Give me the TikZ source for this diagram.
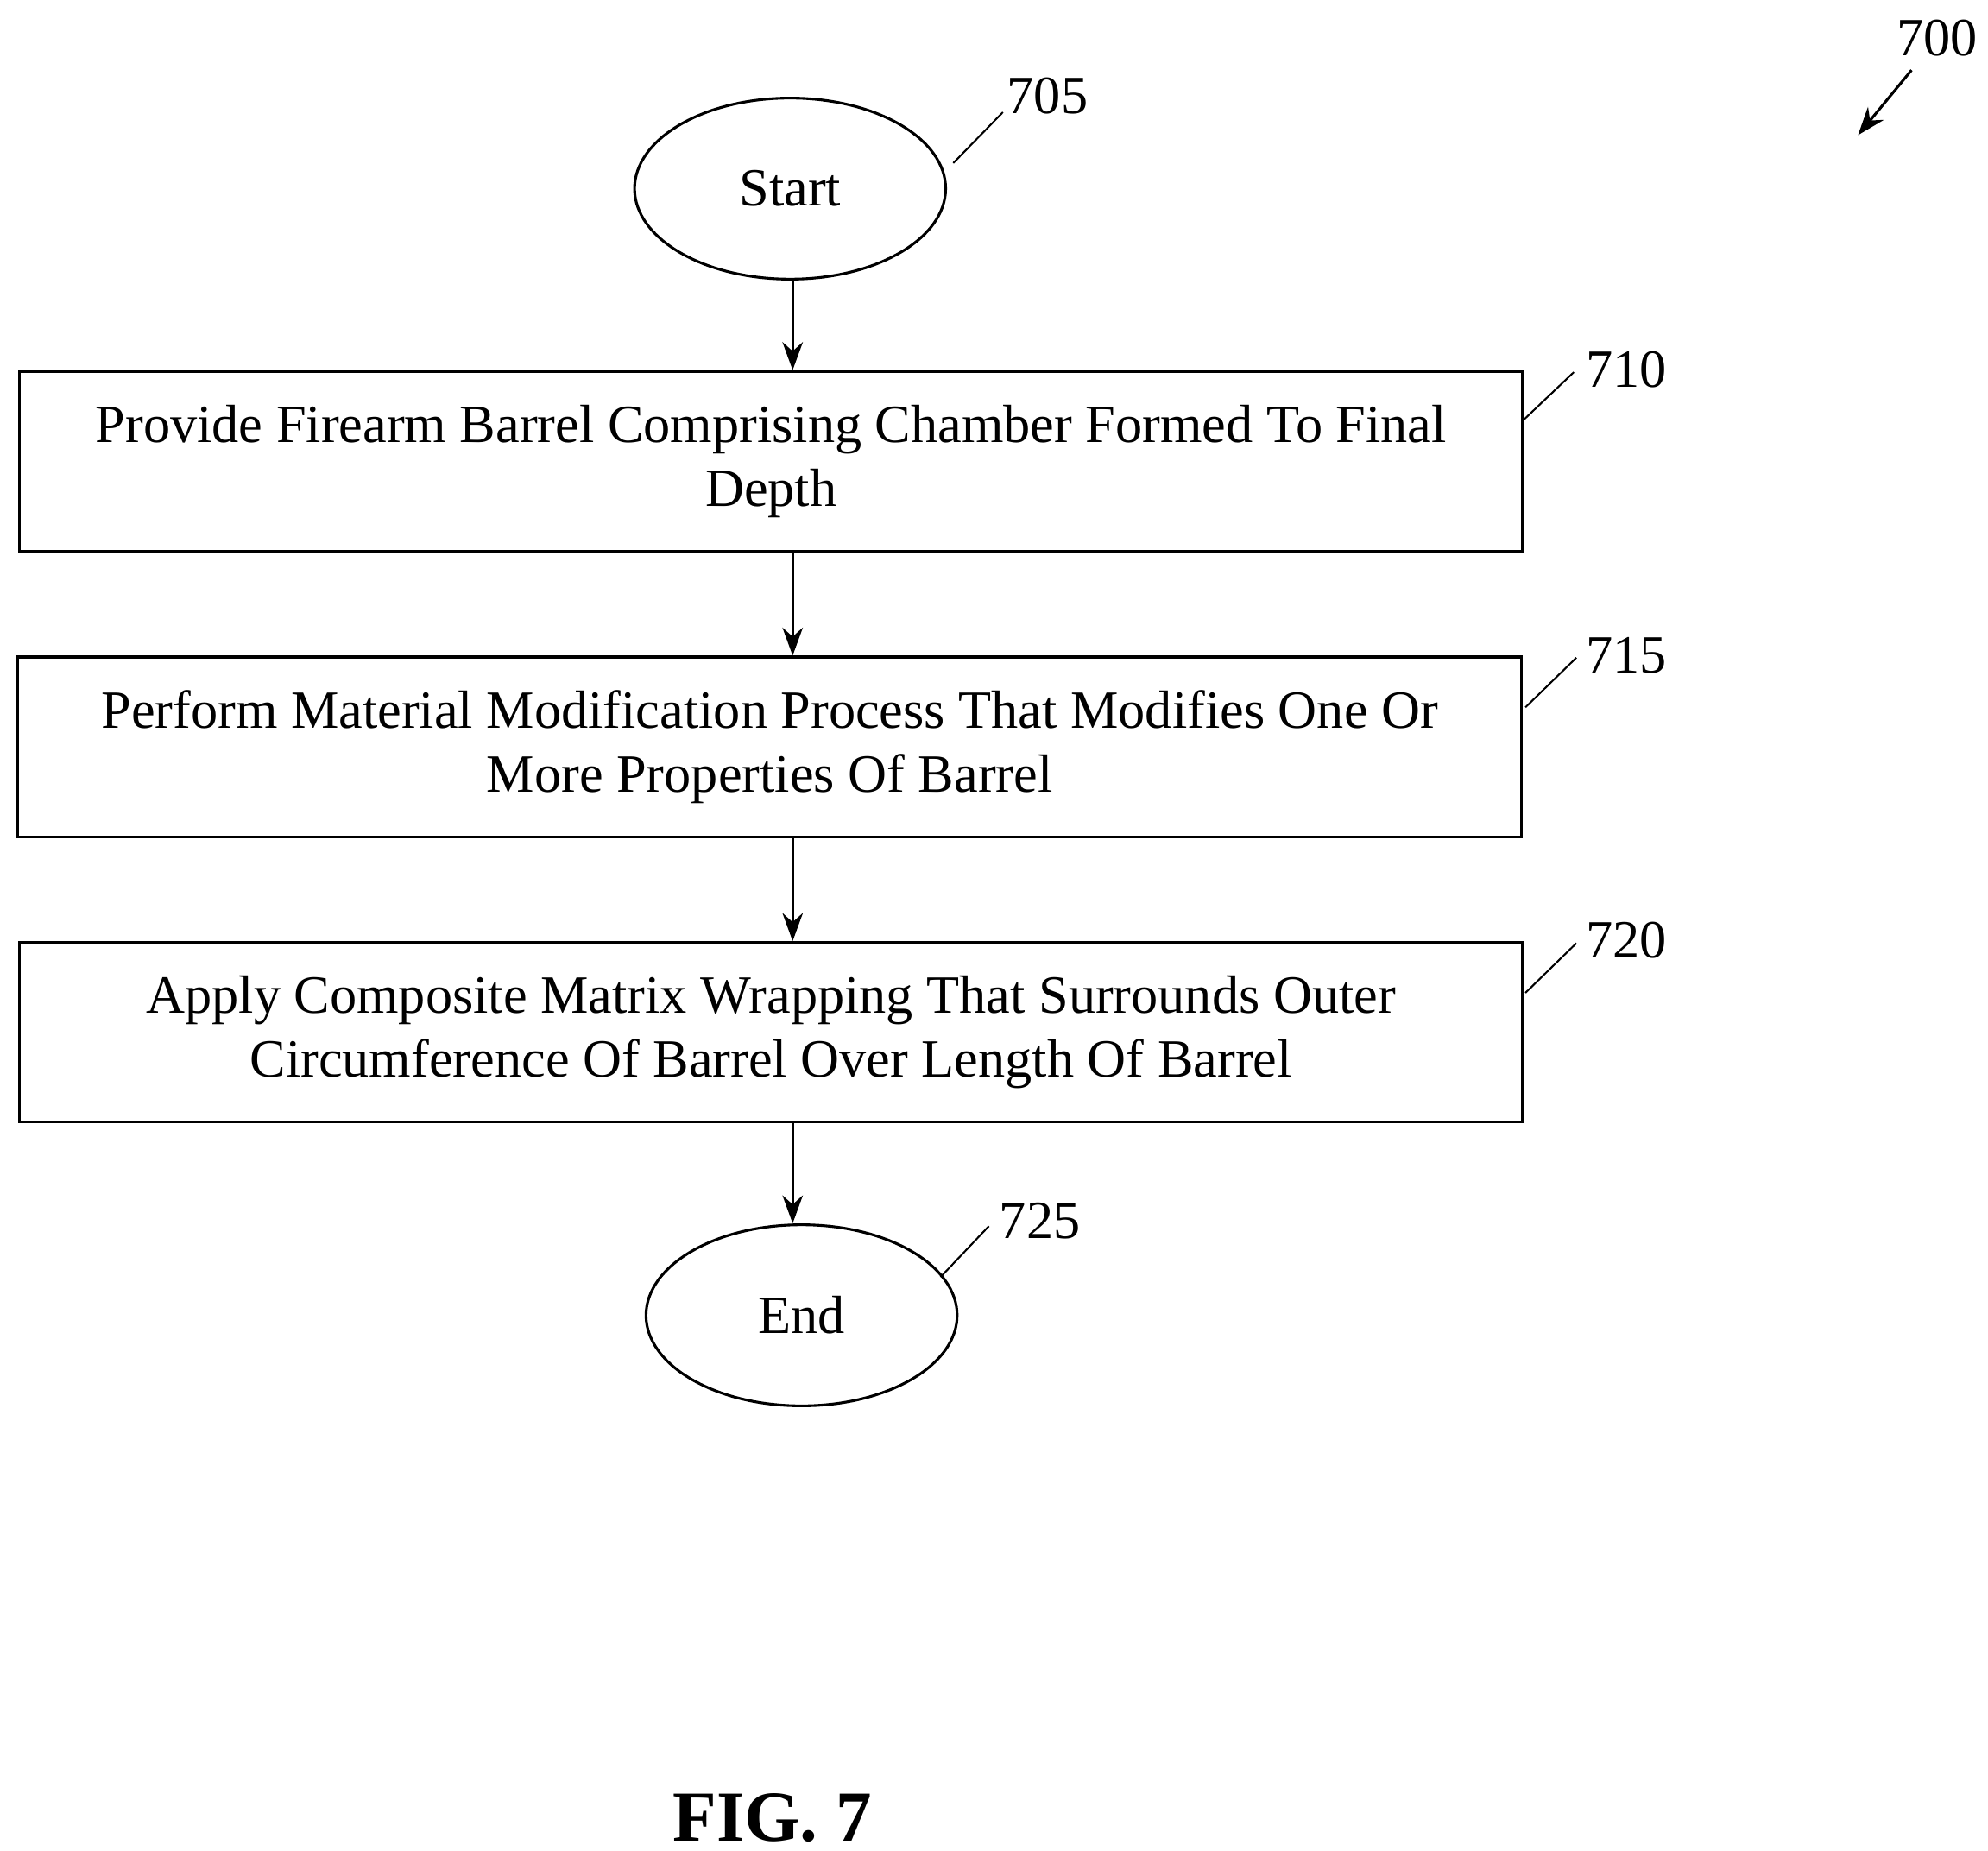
\documentclass[tikz,border=0pt]{standalone}
\usepackage{fontspec}
\setmainfont{Liberation Serif}
\usetikzlibrary{positioning,shapes.geometric,arrows.meta}
\tikzset{
	stepbox/.style={rectangle, draw, semithick, minimum width=11.79cm, minimum height=1.41cm, align=center, font=\fontsize{12}{14.2}\selectfont, inner sep=0pt},
	termnode/.style={ellipse, draw, semithick, minimum width=2.44cm, minimum height=1.42cm, font=\fontsize{12}{14.2}\selectfont},
	reflabel/.style={font=\fontsize{12}{14.2}\selectfont, inner sep=1pt},
	flow/.style={-{Stealth[length=2.2mm,width=1.6mm]}, semithick}
}
\begin{document}
\begin{tikzpicture}[x=0.01cm,y=-0.01cm]
	\useasboundingbox (0,0) rectangle (1560,1452);
	% flow nodes
	\node[termnode] (start) at (620,148) {Start};
	\node[stepbox] (s710) at (605,362) {Provide Firearm Barrel Comprising Chamber Formed To Final\\Depth};
	\node[stepbox] (s715) at (604,586) {Perform Material Modification Process That Modifies One Or\\More Properties Of Barrel};
	\node[stepbox] (s720) at (605,810) {Apply Composite Matrix Wrapping That Surrounds Outer\\Circumference Of Barrel Over Length Of Barrel};
	\node[termnode] (end) at (629,1032) {End};
	% connectors
	\draw[flow] (start.south -| 622,0) -- (s710.north -| 622,0);
	\draw[flow] (s710.south -| 622,0) -- (s715.north -| 622,0);
	\draw[flow] (s715.south -| 622,0) -- (s720.north -| 622,0);
	\draw[flow] (s720.south -| 622,0) -- (end.north -| 622,0);
	% reference numerals
	\node[reflabel] (l705) at (822,75) {705};
	\node[reflabel] (l710) at (1276,290) {710};
	\node[reflabel] (l715) at (1276,514) {715};
	\node[reflabel] (l720) at (1276,738) {720};
	\node[reflabel] (l725) at (816,958) {725};
	\node[reflabel] (l700) at (1520,30) {700};
	\coordinate (c705) at (748,128);
	\coordinate (c710) at (1195,330);
	\coordinate (c715) at (1197,555);
	\coordinate (c720) at (1197,779);
	\coordinate (c725) at (738,1002);
	\coordinate (c700) at (1458,106);
	\draw (c705) -- (787,88);
	\draw (c710) -- (1235,292);
	\draw (c715) -- (1237,516);
	\draw (c720) -- (1237,740);
	\draw (c725) -- (776,962);
	\draw[flow] (1500,55) -- (c700);
	\node[font=\bfseries\fontsize{16}{19}\selectfont] (fig) at (606,1426) {FIG. 7};
\end{tikzpicture}
\end{document}
